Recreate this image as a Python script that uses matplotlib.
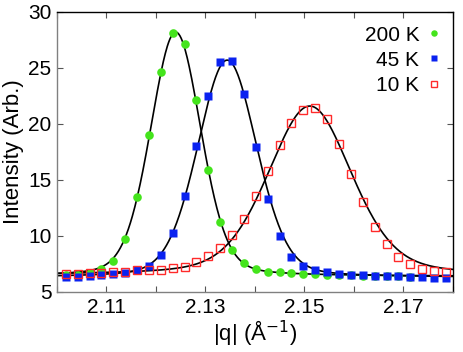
import numpy as np
import matplotlib
matplotlib.use("Agg")
import matplotlib.pyplot as plt

plt.rcParams['font.family'] = ['Liberation Sans', 'DejaVu Sans']

# momentum transfer |q| (1/A)
q = [2.1018, 2.1042, 2.1066, 2.1090, 2.1114, 2.1138, 2.1162, 2.1186, 2.1210,
     2.1234, 2.1258, 2.1282, 2.1306, 2.1330, 2.1354, 2.1378, 2.1402, 2.1426,
     2.1450, 2.1474, 2.1498, 2.1522, 2.1546, 2.1570, 2.1594, 2.1618, 2.1642,
     2.1666, 2.1690, 2.1714, 2.1738, 2.1762, 2.1786]

int_200K = [6.5, 6.5, 6.7, 7.05, 7.8, 9.7, 13.5, 19.0, 24.6, 28.1, 27.1, 22.1,
            15.9, 11.25, 8.75, 7.6, 7.05, 6.8, 6.75, 6.7, 6.65, 6.6, 6.55, 6.5,
            6.5, 6.45, 6.45, 6.4, 6.4, 6.35]
int_45K = [6.3, 6.3, 6.45, 6.55, 6.6, 6.7, 6.95, 7.3, 8.3, 10.3, 13.6, 18.0,
           22.5, 25.5, 25.6, 22.7, 17.9, 13.3, 10.0, 8.1, 7.3, 7.0, 6.8, 6.6,
           6.5, 6.5, 6.45, 6.4, 6.4, 6.35, 6.3, 6.25, 6.25]
int_10K = [6.6, 6.6, 6.7, 6.7, 6.8, 6.8, 6.95, 7.0, 7.0, 7.1, 7.2, 7.7, 8.2,
           8.9, 10.1, 11.5, 13.6, 15.8, 18.1, 20.1, 21.25, 21.4, 20.4, 18.2,
           15.5, 13.0, 10.8, 9.3, 8.1, 7.5, 7.05, 6.9, 6.8]

labels = ["200 K", "45 K", "10 K"]

# pseudo-Voigt fit parameters: center, fwhm, amplitude, background, lorentz fraction
fit_center = [2.1240, 2.1344, 2.1511]
fit_fwhm = [0.0120, 0.0141, 0.0200]
fit_amp = [21.8, 19.4, 15.1]
fit_bg = [6.4, 6.3, 6.5]
fit_eta = [0.2, 0.2, 0.3]


def pseudo_voigt(x, c, w, a, bg, eta):
    hw = w / 2.0
    lor = 1.0 / (1.0 + ((x - c) / hw) ** 2)
    gau = np.exp(-np.log(2) * ((x - c) / hw) ** 2)
    return bg + a * (eta * lor + (1 - eta) * gau)


fig = plt.figure(figsize=(4.63, 3.52), dpi=100)
ax = fig.add_axes([0.123, 0.1705, 0.855, 0.7955])

xf = np.linspace(2.10, 2.18, 600)
for c, w, a, bg, eta in zip(fit_center, fit_fwhm, fit_amp, fit_bg, fit_eta):
    ax.plot(xf, pseudo_voigt(xf, c, w, a, bg, eta), color='black', lw=1.2, zorder=2)

ax.plot(q[:len(int_200K)], int_200K, 'o', color='#44e41c', ms=6.2, mec='none',
        label=labels[0], zorder=3)
ax.plot(q, int_45K, 's', color='#0a22f0', ms=6.0, mec='none',
        label=labels[1], zorder=4)
ax.plot(q, int_10K, 's', mfc='none', mec='#ff2a2a', mew=1.0, ms=6.2,
        label=labels[2], zorder=5)

ax.set_xlim(2.10, 2.18)
ax.set_ylim(5, 30)
ax.set_xticks(np.arange(2.10, 2.1801, 0.01))
ax.set_xticklabels(['', '2.11', '', '2.13', '', '2.15', '', '2.17', ''])
ax.set_yticks([5, 10, 15, 20, 25, 30])
ax.tick_params(direction='in', length=4, width=0.8, top=True, right=True,
               labelsize=15, pad=4, color='#555555')
for side in ['left', 'bottom']:
    ax.spines[side].set_color('#808080')
for side in ['top', 'right']:
    ax.spines[side].set_color('black')
for s in ax.spines.values():
    s.set_linewidth(1.0)

ax.set_xlabel('|q| (Å$^{-1}$)', fontsize=16, labelpad=1)
ax.set_ylabel('Intensity (Arb.)', fontsize=16, labelpad=3)

ax.legend(loc='upper right', frameon=False, markerfirst=False, fontsize=15,
          handlelength=0.5, handletextpad=0.45, labelspacing=0.3,
          borderaxespad=0.25, markerscale=0.75)

fig.savefig('out.png', dpi=100)
